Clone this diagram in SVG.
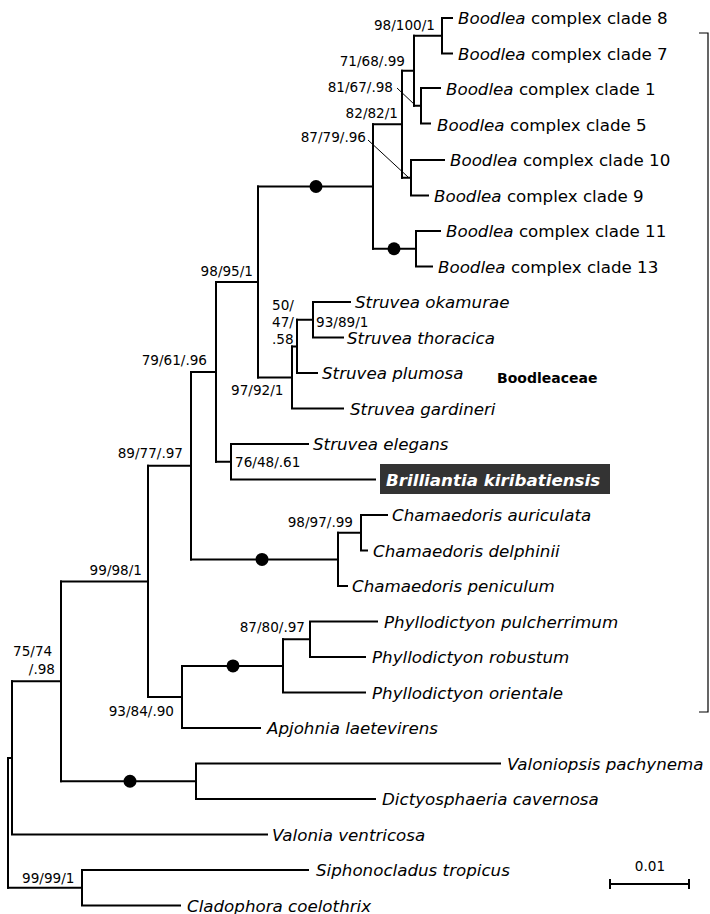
<svg xmlns="http://www.w3.org/2000/svg" width="710" height="914" viewBox="0 0 710 914">
<style>
.b{stroke:#000;stroke-width:2;fill:none;stroke-linecap:square}
.ld{stroke:#000;stroke-width:1;fill:none}
.t{font-family:"DejaVu Sans",sans-serif;font-size:16.7px;font-style:italic;fill:#000}
.n{font-style:normal}
.s{font-family:"DejaVu Sans",sans-serif;font-size:13.6px;fill:#000}
.e{text-anchor:end}
.dot{fill:#000}
</style>
<rect width="710" height="914" fill="#fff"/>
<g id="connectors">
<path class="b" d="M442,18V53.5M442,18H452M442,53.5H452M414,35.75H442"/>
<path class="b" d="M421,88V123.5M421,88H440M421,123.5H430M414,105.75H421"/>
<path class="b" d="M414,35.75V105.75M402,70.75H414"/>
<path class="b" d="M411,160V195.5M411,160H444M411,195.5H428M402,177.75H411"/>
<path class="b" d="M402,70.75V177.75M373,124.25H402"/>
<path class="b" d="M416,231V266.5M416,231H440M416,266.5H432M373,248.75H416"/>
<path class="b" d="M373,124.25V248.75M258,186.5H373"/>
<path class="b" d="M313,302V337.5M313,302H350M313,337.5H343M297,319.75H313"/>
<path class="b" d="M297,319.75V373M297,373H317M292,346.4H297"/>
<path class="b" d="M292,346.4V408.5M292,408.5H343M258,377.4H292"/>
<path class="b" d="M258,186.5V377.4M216,282H258"/>
<path class="b" d="M231,444V479.5M231,444H308M231,479.5H375M216,461.75H231"/>
<path class="b" d="M216,282V461.75M191,372H216"/>
<path class="b" d="M361,515V550.5M361,515H387M361,550.5H367M338,532.75H361"/>
<path class="b" d="M338,532.75V586M338,586H347M191,559.4H338"/>
<path class="b" d="M191,372V559.4M148,465.7H191"/>
<path class="b" d="M310,621.5V657M310,621.5H377M310,657H365M283,639.25H310"/>
<path class="b" d="M283,639.25V692.5M283,692.5H365M182,665.9H283"/>
<path class="b" d="M182,665.9V728M182,728H260M148,697H182"/>
<path class="b" d="M148,465.7V697M61,581.4H148"/>
<path class="b" d="M196,763.5V799M196,763.5H500M196,799H375M61,781.25H196"/>
<path class="b" d="M61,581.4V781.25M12,681.3H61"/>
<path class="b" d="M12,681.3V834.5M12,834.5H267M8,757.9H12"/>
<path class="b" d="M82,870V905.5M82,870H308M82,905.5H180M8,887.75H82"/>
<path class="b" d="M8,757.9V887.75"/>
<path class="ld" d="M397,88L415,105M368,140L408,177"/>
<circle class="dot" cx="316" cy="186.5" r="6.5"/>
<circle class="dot" cx="394" cy="248.75" r="6.5"/>
<circle class="dot" cx="262" cy="559.4" r="6.5"/>
<circle class="dot" cx="233" cy="665.9" r="6.5"/>
<circle class="dot" cx="130" cy="781.25" r="6.5"/>
</g>
<g id="support-labels">
<text class="s e" x="435" y="30">98/100/1</text>
<text class="s e" x="405" y="66">71/68/.99</text>
<text class="s e" x="393" y="92">81/67/.98</text>
<text class="s e" x="398" y="118">82/82/1</text>
<text class="s e" x="366" y="142">87/79/.96</text>
<text class="s e" x="253" y="276">98/95/1</text>
<text class="s" x="272" y="310">50/</text>
<text class="s" x="272" y="327">47/</text>
<text class="s" x="272" y="344">.58</text>
<text class="s" x="316" y="327">93/89/1</text>
<text class="s" x="231" y="395">97/92/1</text>
<text class="s e" x="207" y="365">79/61/.96</text>
<text class="s e" x="183" y="458">89/77/.97</text>
<text class="s" x="235" y="467">76/48/.61</text>
<text class="s e" x="353" y="527">98/97/.99</text>
<text class="s e" x="142" y="575">99/98/1</text>
<text class="s e" x="305" y="632">87/80/.97</text>
<text class="s" x="13" y="656">75/74</text>
<text class="s e" x="55" y="674">/.98</text>
<text class="s e" x="174" y="716">93/84/.90</text>
<text class="s" x="22" y="883">99/99/1</text>
</g>
<g id="taxa">
<g id="boodlea8"><text class="t" x="458" y="24">Boodlea<tspan class="n"> complex clade 8</tspan></text></g>
<g id="boodlea7"><text class="t" x="458" y="59.5">Boodlea<tspan class="n"> complex clade 7</tspan></text></g>
<g id="boodlea1"><text class="t" x="446" y="95">Boodlea<tspan class="n"> complex clade 1</tspan></text></g>
<g id="boodlea5"><text class="t" x="437" y="130.5">Boodlea<tspan class="n"> complex clade 5</tspan></text></g>
<g id="boodlea10"><text class="t" x="450" y="166">Boodlea<tspan class="n"> complex clade 10</tspan></text></g>
<g id="boodlea9"><text class="t" x="434" y="201.5">Boodlea<tspan class="n"> complex clade 9</tspan></text></g>
<g id="boodlea11"><text class="t" x="446" y="237">Boodlea<tspan class="n"> complex clade 11</tspan></text></g>
<g id="boodlea13"><text class="t" x="438" y="272.5">Boodlea<tspan class="n"> complex clade 13</tspan></text></g>
<g id="okamurae"><text class="t" x="355" y="308">Struvea okamurae</text></g>
<g id="thoracica"><text class="t" x="347" y="343.5">Struvea thoracica</text></g>
<g id="plumosa"><text class="t" x="322" y="379">Struvea plumosa</text></g>
<g id="gardineri"><text class="t" x="350" y="414.5">Struvea gardineri</text></g>
<g id="elegans"><text class="t" x="313" y="450">Struvea elegans</text></g>
<g id="brilliantia"><rect x="380" y="464" width="230" height="30" fill="#333"/><text class="t" x="386" y="485.5" style="font-weight:bold;fill:#fff">Brilliantia kiribatiensis</text></g>
<g id="auriculata"><text class="t" x="392" y="521">Chamaedoris auriculata</text></g>
<g id="delphinii"><text class="t" x="373" y="556.5">Chamaedoris delphinii</text></g>
<g id="peniculum"><text class="t" x="352" y="592">Chamaedoris peniculum</text></g>
<g id="pulcherrimum"><text class="t" x="384" y="627.5">Phyllodictyon pulcherrimum</text></g>
<g id="robustum"><text class="t" x="372" y="663">Phyllodictyon robustum</text></g>
<g id="orientale"><text class="t" x="372" y="698.5">Phyllodictyon orientale</text></g>
<g id="apjohnia"><text class="t" x="267" y="734">Apjohnia laetevirens</text></g>
<g id="valoniopsis"><text class="t" x="507" y="769.5">Valoniopsis pachynema</text></g>
<g id="dictyosphaeria"><text class="t" x="382" y="805">Dictyosphaeria cavernosa</text></g>
<g id="valonia"><text class="t" x="272" y="840.5">Valonia ventricosa</text></g>
<g id="siphonocladus"><text class="t" x="316" y="876">Siphonocladus tropicus</text></g>
<g id="cladophora"><text class="t" x="187" y="911.5">Cladophora coelothrix</text></g>
</g>
<g id="boodleaceae">
<path class="ld" d="M699,33H708V712H699" style="stroke-width:1.2"/>
<text x="497" y="383" style="font-family:'DejaVu Sans',sans-serif;font-size:14px;font-weight:bold">Boodleaceae</text>
</g>
<g id="scalebar">
<path class="b" d="M610,884H689M610,879V889M689,879V889" style="stroke-width:2;stroke-linecap:butt"/>
<text class="s" x="650" y="871" text-anchor="middle">0.01</text>
</g>
</svg>
